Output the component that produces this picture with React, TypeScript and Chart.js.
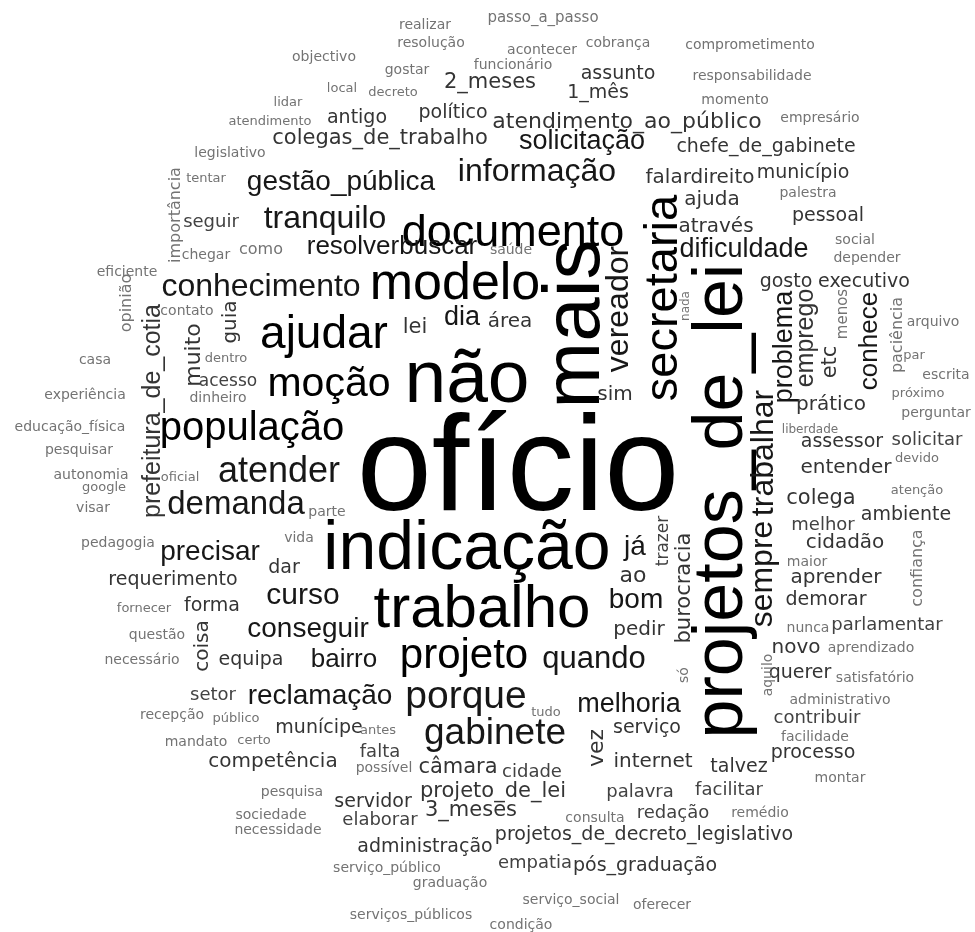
import React, { useEffect, useRef } from 'react';
import { Chart, registerables } from 'chart.js';

Chart.register(...registerables);

// Word cloud: each word is a point of a scatter chart (x, y on hidden linear scales),
// its weight is the font size in px, and some words are set vertically.
const words: string[] = [
  // 1-10
  'ofício', 'não', 'mais', 'indicação', 'projetos_de_lei', 'trabalho', 'modelo', 'documento', 'ajudar', 'secretaria',
  // 11-20
  'projeto', 'moção', 'população', 'porque', 'gabinete', 'atender', 'vereador', 'demanda', 'informação', 'tranquilo',
  // 21-30
  'conhecimento', 'trabalhar', 'sempre', 'quando', 'curso', 'gestão_pública', 'precisar', 'conseguir', 'reclamação', 'já',
  // 31-40
  'bom', 'dificuldade', 'solicitação', 'melhoria', 'dia', 'problema', 'resolverbuscar', 'bairro', 'conhece', 'prefeitura_de_cotia',
  // 41-50
  'emprego', 'ao', 'atendimento_ao_público', 'muito', 'vez', 'colegas_de_trabalho', '2_meses', 'lei', 'projeto_de_lei', '3_meses',
  // 51-60
  'câmara', 'colega', 'etc', 'burocracia', 'falardireito', 'ajuda', 'através', 'competência', 'pedir', 'internet',
  // 61-70
  'aprender', 'cidadão', 'entender', 'prático', 'novo', 'sim', 'área', 'guia', 'coisa', 'chefe_de_gabinete',
  // 71-80
  'município', 'pessoal', 'gosto', 'executivo', 'político', 'antigo', 'assunto', '1_mês', 'requerimento', 'forma',
  // 81-90
  'dar', 'equipa', 'munícipe', 'servidor', 'administração', 'pós_graduação', 'projetos_de_decreto_legislativo', 'serviço', 'talvez', 'processo',
  // 91-100
  'querer', 'demorar', 'ambiente', 'assessor', 'seguir', 'setor', 'falta', 'elaborar', 'cidade', 'palavra',
  // 101-110
  'redação', 'empatia', 'facilitar', 'contribuir', 'parlamentar', 'melhor', 'solicitar', 'trazer', 'acesso', 'como',
  // 111-120
  'importância', 'opinião', 'paciência', 'confiança', 'menos', 'aquilo', 'só', 'nada', 'realizar', 'resolução',
  // 121-130
  'objectivo', 'gostar', 'local', 'decreto', 'lidar', 'atendimento', 'legislativo', 'tentar', 'chegar', 'eficiente',
  // 131-140
  'contato', 'passo_a_passo', 'acontecer', 'cobrança', 'funcionário', 'comprometimento', 'responsabilidade', 'momento', 'empresário', 'palestra',
  // 141-150
  'social', 'depender', 'saúde', 'casa', 'dentro', 'experiência', 'dinheiro', 'educação_física', 'pesquisar', 'autonomia',
  // 151-160
  'oficial', 'google', 'visar', 'pedagogia', 'parte', 'vida', 'fornecer', 'questão', 'necessário', 'recepção',
  // 161-170
  'público', 'mandato', 'certo', 'antes', 'possível', 'pesquisa', 'sociedade', 'necessidade', 'serviço_público', 'graduação',
  // 171-180
  'serviços_públicos', 'condição', 'serviço_social', 'oferecer', 'consulta', 'tudo', 'remédio', 'montar', 'facilidade', 'administrativo',
  // 181-192
  'satisfatório', 'aprendizado', 'nunca', 'maior', 'atenção', 'devido', 'liberdade', 'perguntar', 'próximo', 'escrita', 'par', 'arquivo',
];

// weight of each word (drawn as font size in px)
const weights: number[] = [
  135, 75, 80, 68, 70, 60, 52, 45, 46, 47,
  42, 41, 40, 39, 37, 36, 32, 33, 32, 32,
  32, 32, 32, 31, 30, 28, 28, 28, 28, 28,
  28, 27, 27, 27, 27, 27, 26, 26, 26, 25,
  25, 22, 22, 22, 22, 21, 21, 21, 21, 21,
  21, 21, 21, 21, 20, 20, 20, 20, 20, 20,
  20, 20, 20, 20, 20, 20, 20, 20, 20, 19,
  19, 19, 19, 19, 19, 19, 19, 19, 19, 19,
  19, 19, 19, 19, 19, 19, 19, 19, 19, 19,
  19, 19, 19, 19, 18, 18, 18, 18, 18, 18,
  18, 18, 18, 18, 18, 18, 18, 17, 17, 16,
  16, 16, 16, 16, 15, 14, 14, 12, 14, 14,
  14, 14, 13, 13, 13, 13, 14, 13, 14, 14,
  14, 15, 14, 14, 14, 14, 14, 14, 14, 14,
  14, 14, 14, 14, 13, 14, 14, 14, 14, 14,
  13, 13, 14, 14, 14, 14, 13, 14, 14, 14,
  13, 14, 13, 13, 14, 14, 14, 14, 14, 14,
  14, 14, 14, 14, 14, 13, 14, 14, 14, 14,
  14, 14, 14, 14, 13, 13, 12, 14, 13, 14, 13, 14,
];

// layout position of each word (centre of the word, on a 975 x 932 grid)
const posX: number[] = [
  518, 467, 578, 467, 724, 482, 455, 513, 324, 665,
  464, 329, 252, 466, 495, 279, 620, 236, 537, 325,
  261, 765, 764, 594, 303, 341, 210, 308, 320, 635,
  636, 744, 582, 629, 462, 785, 392, 344, 870, 153,
  806, 633, 627, 194, 597, 380, 490, 415, 493, 471,
  458, 821, 830, 684, 700, 712, 716, 273, 639, 653,
  836, 845, 846, 831, 796, 615, 510, 231, 203, 766,
  803, 828, 786, 864, 453, 357, 618, 598, 173, 212,
  284, 251, 319, 373, 425, 645, 644, 647, 739, 813,
  800, 826, 906, 842, 211, 213, 380, 380, 532, 640,
  673, 535, 729, 817, 887, 823, 927, 663, 228, 261,
  176, 127, 898, 918, 843, 768, 684, 686, 425, 431,
  324, 407, 342, 393, 288, 270, 230, 206, 206, 127,
  187, 543, 542, 618, 513, 750, 752, 735, 820, 808,
  855, 867, 511, 95, 226, 85, 218, 70, 79, 91,
  180, 104, 93, 118, 327, 299, 144, 157, 142, 172,
  236, 196, 254, 378, 384, 292, 271, 278, 387, 450,
  411, 521, 571, 662, 595, 546, 760, 840, 815, 840,
  875, 871, 808, 807, 917, 917, 810, 936, 918, 946, 914, 933,
];

const posY: number[] = [
  475, 382, 324, 551, 501, 611, 285, 234, 336, 298,
  657, 385, 430, 698, 734, 473, 309, 505, 173, 220,
  288, 453, 574, 660, 596, 183, 553, 630, 697, 548,
  601, 250, 142, 705, 318, 347, 247, 660, 341, 411,
  338, 576, 122, 355, 748, 138, 82, 327, 791, 810,
  767, 498, 362, 588, 178, 200, 227, 762, 630, 762,
  578, 543, 468, 405, 648, 395, 322, 322, 646, 147,
  173, 216, 282, 282, 113, 118, 74, 93, 580, 606,
  568, 660, 728, 802, 847, 866, 835, 728, 767, 753,
  673, 600, 515, 442, 222, 695, 752, 820, 772, 792,
  813, 863, 790, 718, 625, 525, 440, 541, 381, 250,
  215, 303, 335, 568, 314, 675, 675, 306, 25, 43,
  57, 70, 88, 92, 102, 121, 153, 178, 255, 272,
  311, 18, 50, 43, 65, 45, 76, 100, 118, 193,
  240, 258, 250, 360, 358, 395, 398, 427, 450, 475,
  477, 487, 508, 543, 512, 538, 608, 635, 660, 715,
  718, 742, 740, 730, 768, 792, 815, 830, 868, 883,
  915, 925, 900, 905, 818, 712, 813, 778, 737, 700,
  678, 648, 628, 562, 490, 458, 430, 413, 393, 375, 355, 322,
];

// words written bottom-to-top
const verticalWords: string[] = [
  'mais', 'projetos_de_lei', 'secretaria', 'vereador', 'trabalhar', 'sempre', 'problema', 'conhece',
  'prefeitura_de_cotia', 'emprego', 'muito', 'vez', 'etc', 'burocracia', 'guia', 'coisa', 'trazer',
  'importância', 'opinião', 'paciência', 'confiança', 'menos', 'aquilo', 'só', 'nada',
];

function colorFor(w: number): string {
  if (w >= 40) return '#000000';
  if (w >= 26) return '#171717';
  if (w >= 19) return '#343434';
  if (w >= 17) return '#424242';
  return '#737373';
}

const wordPlugin = {
  id: 'wordCloudText',
  afterDatasetsDraw(chart: any) {
    const ctx: CanvasRenderingContext2D = chart.ctx;
    const meta = chart.getDatasetMeta(0);
    meta.data.forEach((pt: any, i: number) => {
      const w = weights[i];
      const big = w >= 24;
      const fam = big ? '"Liberation Sans", Arial, sans-serif' : '"DejaVu Sans", Verdana, sans-serif';
      ctx.save();
      ctx.font = `${w}px ${fam}`;
      ctx.fillStyle = colorFor(w);
      ctx.textAlign = 'center';
      ctx.textBaseline = 'alphabetic';
      const off = w * (big ? 0.26 : 0.27);
      ctx.translate(pt.x, pt.y);
      if (verticalWords.includes(words[i])) ctx.rotate(-Math.PI / 2);
      ctx.fillText(words[i], 0, off);
      ctx.restore();
    });
  },
};

export default function App() {
  const ref = useRef<HTMLCanvasElement | null>(null);
  useEffect(() => {
    if (!ref.current) return;
    const chart = new Chart(ref.current, {
      type: 'scatter',
      data: {
        datasets: [
          {
            data: words.map((_, i) => ({ x: posX[i], y: posY[i] })),
            pointRadius: 0,
            pointHoverRadius: 0,
          },
        ],
      },
      options: {
        animation: false,
        responsive: false,
        maintainAspectRatio: false,
        events: [],
        layout: { padding: 0 },
        plugins: { legend: { display: false }, tooltip: { enabled: false } },
        scales: {
          x: { type: 'linear', min: 0, max: 975, display: false },
          y: { type: 'linear', min: 0, max: 932, reverse: true, display: false },
        },
      },
      plugins: [wordPlugin],
    } as any);
    return () => chart.destroy();
  }, []);
  return (
    <div style={{ position: 'absolute', left: 0, top: 0, width: 975, height: 932, background: '#ffffff' }}>
      <canvas ref={ref} width={975} height={932} style={{ display: 'block' }} />
    </div>
  );
}
